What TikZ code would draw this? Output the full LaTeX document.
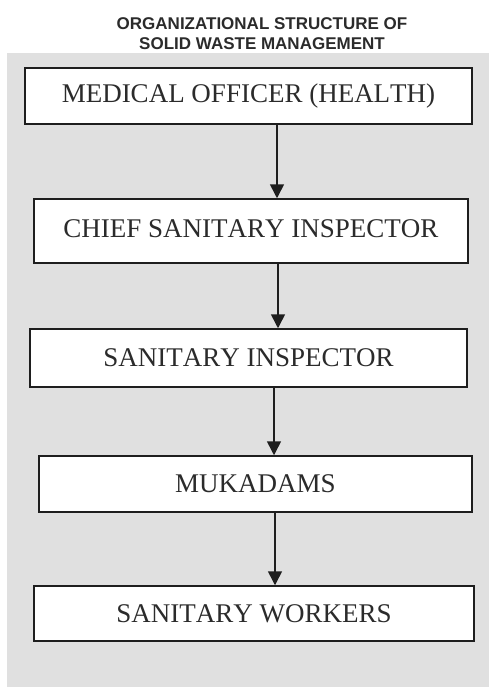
\documentclass[tikz,border=0pt]{standalone}
\usepackage{fontspec}
\setmainfont{Liberation Serif}[Kerning=Off]
\newfontfamily\titlefont{Liberation Sans}
\usetikzlibrary{arrows.meta}
\definecolor{panel}{HTML}{E0E0E0}
\definecolor{ink}{HTML}{2B2B2B}
\definecolor{edge}{HTML}{1E1E1E}
\tikzset{
  orgbox/.style={draw=edge, line width=1.5pt, fill=white, text=ink,
    inner sep=0pt, font=\fontsize{27}{30}\selectfont},
  link/.style={draw=edge, line width=1.6pt,
    -{Triangle[width=14pt,length=14pt]}},
  heading/.style={text=ink, align=center,
    font=\titlefont\bfseries\fontsize{17}{19.5}\selectfont}
}
\begin{document}
\begin{tikzpicture}[x=1pt,y=-1pt]
  \useasboundingbox (0,0) rectangle (489,687);
  % grey panel behind the chart
  \fill[panel] (7,53) rectangle (489,687);

  % heading
  \node[heading] (title) at (262,33.5) {ORGANIZATIONAL STRUCTURE OF\\SOLID WASTE MANAGEMENT};

  % hierarchy boxes
  \node[orgbox, minimum width=447pt, minimum height=56pt]
    (mo) at (248.5,96) {MEDICAL OFFICER (HEALTH)};
  \node[orgbox, minimum width=434pt, minimum height=64pt]
    (csi) at (251,231) {\raisebox{4pt}{CHIEF SANITARY INSPECTOR}};
  \node[orgbox, minimum width=437pt, minimum height=58pt]
    (si) at (248.5,358) {SANITARY INSPECTOR};
  \node[orgbox, minimum width=433pt, minimum height=56pt]
    (muk) at (255.5,484) {MUKADAMS};
  \node[orgbox, minimum width=440pt, minimum height=55pt]
    (sw) at (254,613.5) {SANITARY WORKERS};

  % vertical lines along which the arrows run
  \coordinate (a1) at (277,0);
  \coordinate (a2) at (278,0);
  \coordinate (a3) at (274,0);
  \coordinate (a4) at (275,0);

  \draw[link] (a1 |- mo.south) -- (a1 |- csi.north);
  \draw[link] (a2 |- csi.south) -- (a2 |- si.north);
  \draw[link] (a3 |- si.south) -- (a3 |- muk.north);
  \draw[link] (a4 |- muk.south) -- (a4 |- sw.north);
\end{tikzpicture}
\end{document}
